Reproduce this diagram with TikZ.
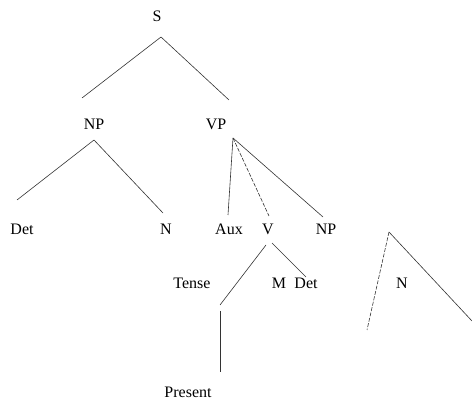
\documentclass[tikz,border=0pt]{standalone}
\usepackage{fontspec}
\setmainfont{Liberation Serif}
\usetikzlibrary{positioning}

\begin{document}
\begin{tikzpicture}[
    x=1pt, y=-1pt,
    cat/.style={inner sep=1pt, font=\fontsize{16}{18}\selectfont},
    branch/.style={draw=black!80, line width=0.6pt},
    gap/.style={branch, dash pattern=on 4pt off 1.5pt}
]
    \useasboundingbox (0,0) rectangle (472,401);

    % Top
    \node[cat] (s) at (157,16) {S};

    % Second level
    \node[cat] (np) at (94,124) {NP};
    \node[cat] (vp) at (216,124) {VP};

    % Third level
    \node[cat] (det) at (22,229) {Det};
    \node[cat] (n) at (166,229) {N};
    \node[cat] (aux) at (229,229) {Aux};
    \node[cat] (v) at (268,229) {V};
    \node[cat] (npb) at (326,229) {NP};

    % Fourth level
    \node[cat] (tense) at (192,283) {Tense};
    \node[cat] (m) at (279,283) {M};
    \node[cat] (detb) at (306,283) {Det};
    \node[cat] (nb) at (402,283) {N};

    % Bottom
    \node[cat] (present) at (188,392) {Present};

    % Branch ends
    \coordinate (sfoot) at (161,37);
    \coordinate (nphead) at (82,98);
    \coordinate (vphead) at (229,100);
    \coordinate (npfoot) at (94,140);
    \coordinate (dethead) at (17,200);
    \coordinate (nhead) at (163,213);
    \coordinate (vpfoot) at (233,138);
    \coordinate (auxhead) at (228,215);
    \coordinate (vhead) at (269,216);
    \coordinate (npbhead) at (323,217);
    \coordinate (vfoot) at (266,245);
    \coordinate (vfootb) at (272,243);
    \coordinate (tensehead) at (220,305);
    \coordinate (dethead2) at (306,277);
    \coordinate (tensefoot) at (220,311);
    \coordinate (presenthead) at (220,372);
    \coordinate (tritop) at (389,232);
    \coordinate (trileft) at (367,330);
    \coordinate (triright) at (472,321);

    % Branches
    \draw[branch] (sfoot) -- (nphead);
    \draw[branch] (sfoot) -- (vphead);
    \draw[branch] (npfoot) -- (dethead);
    \draw[branch] (npfoot) -- (nhead);
    \draw[branch] (vpfoot) -- (auxhead);
    \draw[gap] (vpfoot) -- (vhead);
    \draw[branch] (vpfoot) -- (npbhead);
    \draw[branch] (vfoot) -- (tensehead);
    \draw[branch] (vfootb) -- (dethead2);
    \draw[branch] (tensefoot) -- (presenthead);
    \draw[gap] (tritop) -- (trileft);
    \draw[branch] (tritop) -- (triright);
\end{tikzpicture}
\end{document}
